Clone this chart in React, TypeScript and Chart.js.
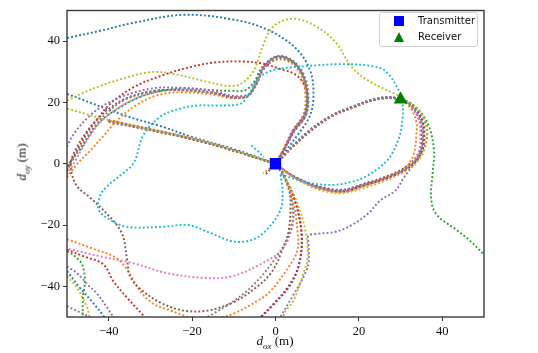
import React, { useEffect, useRef } from "react";
import { Chart, registerables } from "chart.js";
Chart.register(...registerables);

type P = [number, number];

const X_TICKS = [-40, -20, 0, 20, 40];
const Y_TICKS = [-40, -20, 0, 20, 40];
const transmitter: P = [0, 0];
const receiver: P = [30, 21];

// ---- blue (C0)
const blueArc: P[] = [[-50,41],[-42,43.4],[-34,46],[-22,48.6],[-10,47],[-2,43.8],[5,37.5],[8.4,30],[9.1,22],[8.2,15.5],[5,8.8],[2,3.5],[0,0]];
const blueLine: P[] = [[-50,22.8],[-35.6,15.5],[-27.6,12.3],[-19.7,8.6],[-10,4.8],[0,0]];
const blueRight: P[] = [[0,0],[7.5,10.2],[13.6,15.8],[18.8,18.8],[24.5,21.4],[29.5,21.4],[32.7,19],[35.1,14],[35.5,10],[35,4.3],[32.6,-0.6],[27.6,-4.1],[21.2,-7],[15.9,-9],[10.5,-7.7],[6.3,-5.5],[2.9,-2.9],[0,0]];
const blueBottom: P[] = [[1.5,-2.5],[4.5,-11.5],[6.2,-22.5],[5.8,-32],[3.6,-39.5],[-0.5,-46],[-3.8,-50.5]];
const blueCorner: P[] = [[-50,-35],[-47,-40.3],[-43.8,-45.3],[-41.3,-49.5],[-40.8,-50.5]];

// ---- orange (C1)
const orangeWavy: P[] = [[-50,-4.5],[-47.5,0],[-44.5,4.2],[-41,9.5],[-38,14.1],[-33.5,19],[-28.5,22.3],[-22.8,23.3],[-15,22.6],[-10.5,21.4],[-6.8,22],[-4.5,26.5],[-2.6,31.5],[0.5,34],[3.8,32.8],[6.2,28.5],[7.2,22],[6.6,16],[4,10.6],[1.7,4.4],[0,0]];
const orangeLine: P[] = [[-40,14.3],[-18,7.6],[0,0]];
const orangeRight: P[] = [[0,0],[7.7,9.8],[13.4,15.4],[18.8,18.4],[24.5,21],[29.5,21],[32.2,18.5],[33.8,13.5],[33.8,10],[33.2,3.5],[31.5,-0.8],[27,-4.3],[21,-7.4],[15.9,-9.3],[10.5,-8.2],[6.3,-5.8],[2.9,-3.1],[0,0]];
const orangeBottom: P[] = [[1.5,-2.5],[4,-11],[5.3,-22],[5.2,-28.5],[2.5,-35],[-1.5,-42],[-4.3,-44.7],[-10,-48.9],[-14,-50.5]];
const orangeLeft: P[] = [[-50,-24.6],[-43.8,-27.7],[-38,-30.9],[-34.9,-36],[-32.5,-41.5],[-29.3,-45.7],[-25.2,-47.9],[-22.1,-49.5],[-20,-50.5]];
const orangeStub: P[] = [[-0.5,-0.6],[-3,-3.2]];

// ---- green (C2)
const greenWavy: P[] = [[-50,-1],[-48.5,2],[-46.9,4.5],[-44.5,9.5],[-42.3,13.5],[-38,17.8],[-33,21.5],[-28,23.6],[-22.8,24.6],[-15,24],[-10.8,23.8],[-7.2,24],[-5,27],[-3.2,31.5],[0.3,35],[4,33.5],[6.5,29],[7.5,22.5],[7,16.2],[4.4,11],[2,4.5],[0,0]];
const greenLine: P[] = [[-40,13.8],[-18,7.3],[0,0]];
const greenRight: P[] = [[0,0],[7.6,10.1],[13.5,15.7],[18.8,18.7],[24.5,21.3],[29.5,21.3],[33.2,19],[36.5,13.2],[38,4.5],[37.7,-2.9],[37.3,-10.9],[38.5,-16.4],[43.3,-21.5],[46.4,-24.8],[50,-29.6]];
const greenCorner: P[] = [[-50,-28.6],[-48.6,-29.6],[-46.4,-32.8],[-45.7,-38.3],[-46.2,-43.7],[-46.2,-50.5]];

// ---- red (C3)
const redTop: P[] = [[-50,-2],[-49.3,0.3],[-47.5,4.5],[-45.2,10],[-42.5,15],[-39.7,19.5],[-34,25],[-27.6,28.6],[-21.2,31.3],[-14.9,33],[-8.4,33.4],[-3.6,32.8],[1.2,30.9],[5.3,28.6],[7.5,23.5],[7.3,16],[4.5,10.5],[1.9,4.2],[0,0]];
const redLine: P[] = [[-40,14],[-18,7.4],[0,0]];
const redRight: P[] = [[0,0],[7.5,10.1],[13.4,15.7],[18.8,18.7],[24.5,21.3],[29.5,21.3],[32.8,19],[35.3,14],[35.7,10],[35.2,4.3],[32.8,-0.5],[27.8,-4.2],[21.2,-7],[15.9,-9],[10.5,-7.8],[6.3,-5.6],[2.9,-3],[0,0]];
const redBottom: P[] = [[1.6,-2.6],[4.6,-11.6],[6.3,-22.8],[5.6,-33],[3.2,-39.8],[-1,-46.5],[-4,-50.5]];
const redCorner: P[] = [[-50,-28],[-46,-30.2],[-41.3,-32.8],[-38.9,-38.3],[-35.6,-43.7],[-31.7,-49.5],[-31.2,-50.5]];

// ---- purple (C4)
const purpleWavy: P[] = [[-50,5.5],[-48.6,9.3],[-45.2,14.8],[-41.3,19],[-36,22.3],[-29.5,24.6],[-22.8,24.8],[-15,23.8],[-10.5,22.2],[-6.5,22.7],[-4.2,27],[-2.5,32],[0.7,35.2],[4.4,33.4],[6.9,28.8],[7.9,22.2],[7.3,15.8],[4.5,10.8],[2,4.5],[0,0]];
const purpleLine: P[] = [[-40,14.1],[-18,7.5],[0,0]];
const purpleRight: P[] = [[0,0],[7.7,10.2],[13.6,15.8],[18.8,18.8],[24.5,21.4],[29.5,21.3],[33,19],[35.6,14.5],[36.4,10],[35.5,4.5],[33,-0.5],[30.8,-4.5],[28.8,-8.7],[25.2,-11.9],[22,-16.5],[18.3,-20],[14.4,-22.2],[10.3,-22.8],[7.9,-23.5],[7.9,-26],[7.9,-32.5],[6.5,-37.5],[4.2,-43],[1.4,-49.5],[1.1,-50.5]];
const purpleCorner: P[] = [[-50,-33.5],[-47.6,-35.7],[-45,-39.5],[-42.8,-42.4],[-40.4,-46.9],[-38.9,-50],[-38.6,-50.5]];

// ---- brown (C5)
const brownLoop: P[] = [[0,0],[2,4.6],[4.3,11],[7,16],[7.6,22.4],[6.6,28.8],[4.2,33.2],[0.4,34.9],[-3,31.2],[-4.7,26.5],[-6.5,22.3],[-10,21.6],[-14.9,23],[-22.8,24],[-29.3,23.8],[-35.6,21.5],[-39.7,18.2],[-42.8,14.4],[-45.2,10.6],[-47.6,5.5],[-49,1],[-48.8,-3.5],[-47.4,-7.7],[-44.5,-11],[-39.7,-17.4],[-36.8,-22.8],[-35.6,-31.2],[-34.9,-36.7],[-32.5,-40.8],[-27.6,-45.3],[-22.1,-47.9],[-16.3,-47.9],[-10.1,-45.2],[-4.3,-40],[-1,-35.5],[1.2,-29.6],[3.1,-22.2],[3.6,-13.5],[3.1,-7.1],[1.7,-3.5],[0,0]];
const brownLine: P[] = [[-40,13.7],[-18,7.3],[0,0]];
const brownRight: P[] = [[0,0],[7.7,9.9],[13.6,15.5],[18.9,18.5],[24.5,21.1],[29.5,21.1],[32.3,18.8],[34.6,14.1],[35,10],[34.6,4.5],[32.2,-0.1],[27.4,-3.7],[21.2,-6.5],[15.9,-8.5],[10.5,-7.4],[6.3,-5.3],[2.9,-2.8],[0,0]];
const brownStub: P[] = [[0,0],[-2.6,-3.8]];

// ---- pink (C6)
const pinkWavy: P[] = [[-50,-3.5],[-48,1],[-45.5,7],[-42.5,12.8],[-38.5,17.5],[-34,21],[-29,23.3],[-22.8,24],[-15,23.2],[-10.3,21.8],[-6.6,22.3],[-4.4,26.3],[-2.8,31],[0.6,34.5],[4.1,33],[6.6,28.5],[7.6,22],[7,15.8],[4.2,10.8],[1.9,4.4],[0,0]];
const pinkLine: P[] = [[-40,13.9],[-18,7.45],[0,0]];
const pinkRight: P[] = [[0,0],[7.6,10],[13.5,15.6],[18.8,18.6],[24.5,21.2],[29.5,21.2],[32.6,18.6],[34.4,14],[34.7,10],[34.4,4.3],[32.2,-0.6],[27.4,-4.3],[21.2,-7.2],[15.9,-9.1],[10.5,-7.9],[6.3,-5.7],[2.9,-3],[0,0]];
const pinkBottom: P[] = [[1.6,-2.8],[3.5,-8.5],[4.1,-14.8],[3.9,-20],[3.1,-24.4],[1.2,-28.6],[-3.6,-32.8],[-10.1,-36.6],[-16.3,-37.3],[-26,-35.7],[-34,-32.5],[-42,-30.2],[-50,-27.7]];

// ---- gray (C7)
const grayWavy: P[] = [[-50,-2.5],[-48.6,1.3],[-46.2,6.5],[-43.5,12],[-39.7,17.5],[-35.6,21.2],[-29.3,23.6],[-22.8,24.2],[-14.9,23.2],[-10.1,21.6],[-6.7,21.9],[-4.6,25.8],[-3,30.5],[0.5,34.4],[4.3,32.8],[6.7,28.4],[7.7,22.2],[7.1,15.6],[4.3,10.6],[1.9,4.3],[0,0]];
const grayLine: P[] = [[-40,14.05],[-18,7.35],[0,0]];
const grayRight: P[] = [[0,0],[7.6,10],[13.5,15.6],[18.8,18.6],[24.5,21.2],[29.5,21.2],[32.5,19],[34.9,14.1],[35.3,10],[34.9,4.5],[32.5,-0.3],[27.6,-3.9],[21.2,-6.7],[15.9,-8.7],[10.5,-7.6],[6.3,-5.5],[2.9,-2.9],[0,0]];
const grayBottom: P[] = [[1.7,-2.9],[3.3,-9],[4.3,-15.8],[3.6,-22.2],[-0.5,-31.8],[-6,-40.5],[-10.8,-45.5],[-14.9,-48.9],[-17,-50.5]];
const grayCorner: P[] = [[-50,-46.3],[-49.3,-46.9],[-46.2,-48.9],[-44,-50.5]];

// ---- olive (C8)
const oliveTop: P[] = [[-50,20.6],[-46,23.2],[-42,25.4],[-36,28],[-30,29.9],[-24.5,29.3],[-16.3,26.7],[-11.5,25.4],[-8.4,26],[-5.3,30.2],[-2.9,38.9],[-1.2,43.7],[1.2,46.3],[4.8,47.3],[9.1,45.3],[14.2,40],[18.3,31.5],[22.4,27],[29.6,22.2]];
const oliveLine: P[] = [[-50,18],[-40,14.2],[-18,7.6],[0,0]];
const oliveRight: P[] = [[29.5,21.3],[33,19.3],[35.9,14.2],[36.3,10],[35.6,4.2],[33.2,-0.5],[28,-4.6],[21.5,-7.8],[15.9,-9.6],[10.5,-8.5],[6.3,-6],[2.9,-3.2],[0,0]];
const oliveBottom: P[] = [[1.7,-2.9],[5,-12],[7.2,-22],[7.7,-30.9],[6.7,-35.7],[4.3,-44.7],[2.4,-48],[1.7,-50.5]];
const oliveCorner: P[] = [[-50,-36.7],[-47.6,-40.5],[-45.2,-46.9],[-44.5,-50.5]];

// ---- cyan (C9)
const cyanLoop: P[] = [[1.2,-3.5],[7.7,-6.1],[13.2,-6.9],[18,-6],[22,-3.9],[26.9,1.3],[29.5,8],[30.4,14],[30.5,19.6],[29.6,23.8],[26.4,30.2],[22.4,32],[15.6,32.5],[8.7,32],[1,31],[-1.7,30],[-4.3,27.7],[-6.5,22.5],[-8.4,19.6],[-14,19],[-18.8,19],[-22.8,18],[-27.6,15.4],[-31.7,9.3],[-34,0.3],[-37.3,-3.9],[-40.5,-7.5],[-42,-10.3],[-42.5,-14.8],[-39.7,-18.3],[-35.6,-20.6],[-27.6,-20.6],[-21,-20],[-16.3,-22.2],[-10,-25.4],[-5,-24.5],[-1.5,-20.6],[1.2,-15],[1.7,-9],[1.2,-3.5]];
const cyanHook: P[] = [[-5.8,6],[-4.3,4.2],[-2.8,2.2]];

const SERIES = [
  { color: "#1f77b4", segs: [blueArc, blueLine, blueRight, blueBottom, blueCorner] },
  { color: "#ff7f0e", segs: [orangeWavy, orangeLine, orangeRight, orangeBottom, orangeLeft, orangeStub] },
  { color: "#2ca02c", segs: [greenWavy, greenLine, greenRight, greenCorner] },
  { color: "#d62728", segs: [redTop, redLine, redRight, redBottom, redCorner] },
  { color: "#9467bd", segs: [purpleWavy, purpleLine, purpleRight, purpleCorner] },
  { color: "#8c564b", segs: [brownLoop, brownLine, brownRight, brownStub] },
  { color: "#e377c2", segs: [pinkWavy, pinkLine, pinkRight, pinkBottom] },
  { color: "#7f7f7f", segs: [grayWavy, grayLine, grayRight, grayBottom, grayCorner] },
  { color: "#bcbd22", segs: [oliveTop, oliveLine, oliveRight, oliveBottom, oliveCorner] },
  { color: "#17becf", segs: [cyanLoop, cyanHook] },
];

const fmt = (v: number | string) => {
  const n = Number(v);
  return n < 0 ? "\u2212" + Math.abs(n) : String(n);
};

export default function App() {
  const ref = useRef<HTMLCanvasElement>(null);
  useEffect(() => {
    const datasets: any[] = [
      {
        data: [{ x: transmitter[0], y: transmitter[1] }],
        pointStyle: "rect", pointRadius: 8, backgroundColor: "#0000ff", borderWidth: 0, showLine: false,
      },
      {
        data: [{ x: receiver[0], y: receiver[1] }],
        pointStyle: "triangle", pointRadius: 8, backgroundColor: "#008000", borderWidth: 0, showLine: false,
      },
    ];
    [...SERIES].reverse().forEach((s) => {
      s.segs.forEach((seg) => {
        datasets.push({
          data: seg.map(([x, y]) => ({ x, y })),
          showLine: true,
          borderColor: s.color,
          borderWidth: 1.9,
          borderDash: [1.9, 2.2],
          borderCapStyle: "butt",
          tension: 0.35,
          pointRadius: 0,
          fill: false,
        });
      });
    });
    const frame = {
      id: "frame",
      afterDraw(chart: any) {
        const { ctx, chartArea: a } = chart;
        ctx.save();
        ctx.strokeStyle = "#3a3a3a";
        ctx.lineWidth = 1.4;
        ctx.strokeRect(a.left, a.top, a.right - a.left, a.bottom - a.top);
        ctx.restore();
      },
    };
    const tickFont = { family: "'Liberation Serif', serif", size: 12.5 };
    const chart = new Chart(ref.current!, {
      type: "scatter",
      data: { datasets },
      options: {
        animation: false,
        responsive: false,
        layout: { padding: { top: 6, right: 54, left: 0, bottom: 0 } },
        plugins: { legend: { display: false }, tooltip: { enabled: false } },
        scales: {
          x: {
            type: "linear", min: -50, max: 50,
            afterBuildTicks: (s: any) => { s.ticks = X_TICKS.map((v) => ({ value: v })); },
            afterFit: (s: any) => { s.height = 36; },
            ticks: { font: tickFont, color: "#111", padding: 3, maxRotation: 0, callback: fmt },
            grid: { drawOnChartArea: false, tickLength: 4, color: "#333", tickWidth: 1 },
            border: { display: false },
          },
          y: {
            type: "linear", min: -50, max: 50,
            afterBuildTicks: (s: any) => { s.ticks = Y_TICKS.map((v) => ({ value: v })); },
            afterFit: (s: any) => { s.width = 67; },
            ticks: { font: tickFont, color: "#111", padding: 3, callback: fmt },
            grid: { drawOnChartArea: false, tickLength: 4, color: "#333", tickWidth: 1 },
            border: { display: false },
          },
        },
      } as any,
      plugins: [frame],
    });
    return () => chart.destroy();
  }, []);

  const serif = "'Liberation Serif', serif";
  return (
    <div style={{ position: "fixed", left: 0, top: 0, width: 538, height: 353, background: "#fff", overflow: "hidden" }}>
      <canvas ref={ref} width={538} height={353} style={{ position: "absolute", left: 0, top: 0 }} />
      <div style={{ position: "absolute", left: 275, top: 334, transform: "translateX(-50%)", fontFamily: serif, fontSize: 13, whiteSpace: "nowrap", color: "#111", lineHeight: "14px" }}>
        <i>d</i><sub style={{ fontSize: 9, fontStyle: "italic" }}>ox</sub> (m)
      </div>
      <div style={{ position: "absolute", left: 24, top: 162, transform: "translate(-50%,-50%) rotate(-90deg)", fontFamily: serif, fontSize: 13, whiteSpace: "nowrap", color: "#111", lineHeight: "14px" }}>
        <i>d</i><sub style={{ fontSize: 9, fontStyle: "italic" }}>oy</sub> (m)
      </div>
      <div style={{ position: "absolute", left: 379, top: 12, width: 99, height: 35, border: "1px solid #d0d0d0", borderRadius: 3, background: "rgba(255,255,255,0.85)", boxSizing: "border-box", fontFamily: "'DejaVu Sans', sans-serif", fontSize: 10, color: "#111" }}>
        <div style={{ position: "absolute", left: 14, top: 3, width: 10, height: 10, background: "#0000ff" }} />
        <div style={{ position: "absolute", left: 14, top: 19, width: 0, height: 0, borderLeft: "5.5px solid transparent", borderRight: "5.5px solid transparent", borderBottom: "10px solid #008000" }} />
        <div style={{ position: "absolute", left: 38, top: 2, lineHeight: "12px" }}>Transmitter</div>
        <div style={{ position: "absolute", left: 38, top: 18, lineHeight: "12px" }}>Receiver</div>
      </div>
    </div>
  );
}
